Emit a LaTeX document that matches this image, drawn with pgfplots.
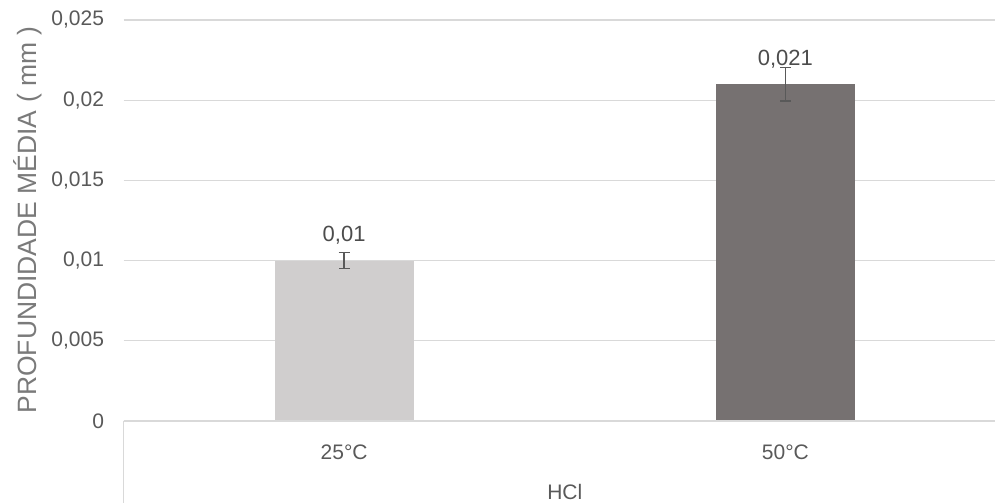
\documentclass[border=0pt]{standalone}
\usepackage{pgfplots}
\pgfplotsset{compat=1.18}
\usepackage{fontspec}
\setmainfont{Liberation Sans}
\definecolor{lightbar}{HTML}{D0CECE}
\definecolor{darkbar}{HTML}{767171}
\definecolor{txt}{HTML}{595959}
\definecolor{gridc}{HTML}{D9D9D9}
\begin{document}
\begin{tikzpicture}
\useasboundingbox (0,0) rectangle (995pt,503pt);
\clip (0,0) rectangle (995pt,503pt);
\begin{axis}[
  at={(123.5pt,82pt)}, anchor=south west,
  scale only axis, width=871.5pt, height=401pt,
  xmin=-0.5, xmax=1.475, ymin=0, ymax=0.025,
  clip=false,
  axis line style={draw=none},
  tick style={draw=none},
  scaled y ticks=false,
  ytick={0,0.005,0.01,0.015,0.02,0.025},
  xtick={0,1}, xticklabels={25°C,50°C},
  ymajorgrids, major grid style={gridc, line width=1.3pt},
  /pgf/number format/.cd, use comma, fixed, precision=3, assume math mode=true,
  /pgfplots/.cd,
  tick label style={font=\fontsize{21}{25}\selectfont, text=txt},
  yticklabel style={xshift=-16pt},
  xticklabel style={yshift=-16pt},
  ybar, bar width=139pt, bar shift=0pt,
  nodes near coords,
  every node near coord/.append style={anchor=center, yshift=25pt, font=\fontsize{22}{26}\selectfont, text=txt!85!black},
  error bars/y dir=both, error bars/y explicit,
  error bars/error bar style={color=txt, line width=1.5pt},
  error bars/error mark options={rotate=90, mark size=5.5pt, line width=1.5pt, color=txt},
]
\addplot[fill=lightbar, draw=none] coordinates {(0,0.010) +- (0,0.0005)};
\addplot[fill=darkbar, draw=none] coordinates {(1,0.021) +- (0,0.00105)};
\draw[gridc, line width=1.5pt] (axis cs:-0.5,0) -- (axis cs:1.475,0);
\node[font=\fontsize{21}{25}\selectfont, text=txt] at ([yshift=-71pt]axis cs:0.5,0) {HCl};
\end{axis}
\draw[gridc, line width=1.5pt] (123.5pt,82pt) -- (123.5pt,0pt);
\node[rotate=90, font=\fontsize{26.5}{31}\selectfont, text=txt!80!white] at (28pt,283pt) {PROFUNDIDADE MÉDIA ( mm )};
\end{tikzpicture}
\end{document}
